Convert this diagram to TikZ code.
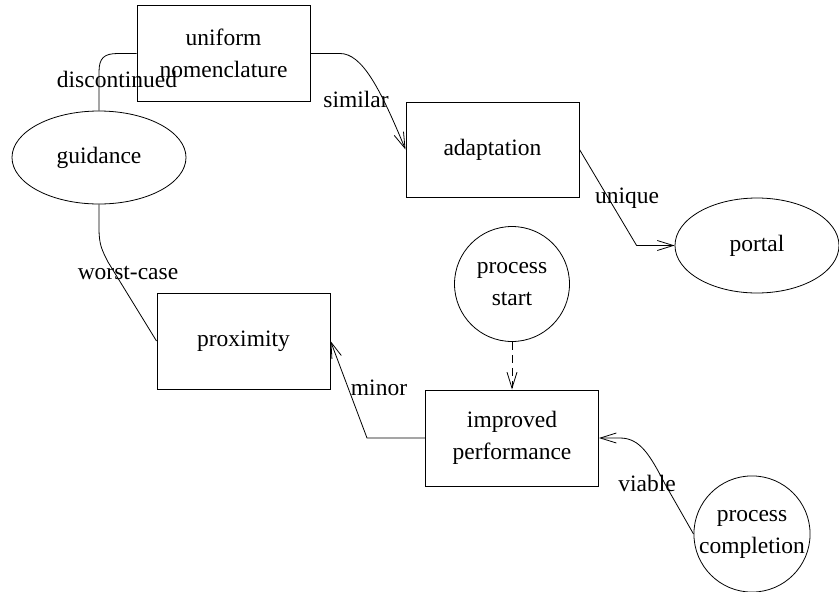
\documentclass[tikz,border=0pt]{standalone}
\usepackage{fontspec}
\setmainfont{Liberation Serif}
\usetikzlibrary{arrows.meta,shapes.geometric,calc}
\begin{document}
\begin{tikzpicture}[x=1pt,y=-1pt,
  every node/.style={font=\fontsize{23.5}{32}\selectfont, inner sep=0pt, align=center},
  boxnode/.style={draw, rectangle, line width=1pt, minimum width=173pt, minimum height=96pt},
  ellnode/.style={draw, ellipse, line width=0.8pt},
  circnode/.style={draw, circle, line width=0.8pt, minimum size=115pt},
  edge/.style={line width=0.8pt},
  arr/.style={edge, -{Straight Barb[length=16pt,width=10pt]}},
  lbl/.style={anchor=base}
]
\useasboundingbox (0,0) rectangle (839,592);
% nodes
\node[boxnode] (un) at (223.5,53.5) {uniform\\nomenclature};
\node[ellnode, minimum width=174pt, minimum height=93pt] (g) at (99,157.5) {guidance};
\node[boxnode, minimum height=95pt] (ad) at (492.5,149.5) {adaptation};
\node[ellnode, minimum width=164pt, minimum height=95pt] (po) at (757,245.5) {portal};
\node[circnode] (ps) at (512,284) {process\\start};
\node[boxnode] (pr) at (243.5,341) {proximity};
\node[boxnode] (ip) at (512,438) {improved\\performance};
\node[circnode] (pc) at (752,534) {process\\completion};
% edges
\draw[edge] (g.north) -- (99,72) .. controls (99,58) and (104,53.5) .. (118,53.5) -- (un.west);
\node[lbl] (l1) at (117,87) {discontinued};
\draw[arr] (un.east) -- (340,53.5) .. controls (362,53.5) and (380,88) .. (ad.west);
\node[lbl] (l2) at (356,107) {similar};
\draw[arr] (ad.east) -- ($(po.west)+(-38,0)$) -- (po.west);
\node[lbl] (l3) at (627,203) {unique};
\draw[edge] (g.south) -- (99,228) .. controls (99,245) and (102,250) .. (108,262) -- (pr.west);
\node[lbl] (l4) at (128,279) {worst-case};
\draw[arr] (ip.west) -- ($(ip.west)+(-58,0)$) -- (pr.east);
\node[lbl] (l5) at (379,395) {minor};
\draw[arr, dash pattern=on 8pt off 5pt] (ps.south) -- (ip.north);
\draw[arr] (pc.west) -- (665,484) .. controls (650,455) and (640,438) .. (620,438) -- (ip.east);
\node[lbl] (l6) at (647,491) {viable};
\end{tikzpicture}
\end{document}
